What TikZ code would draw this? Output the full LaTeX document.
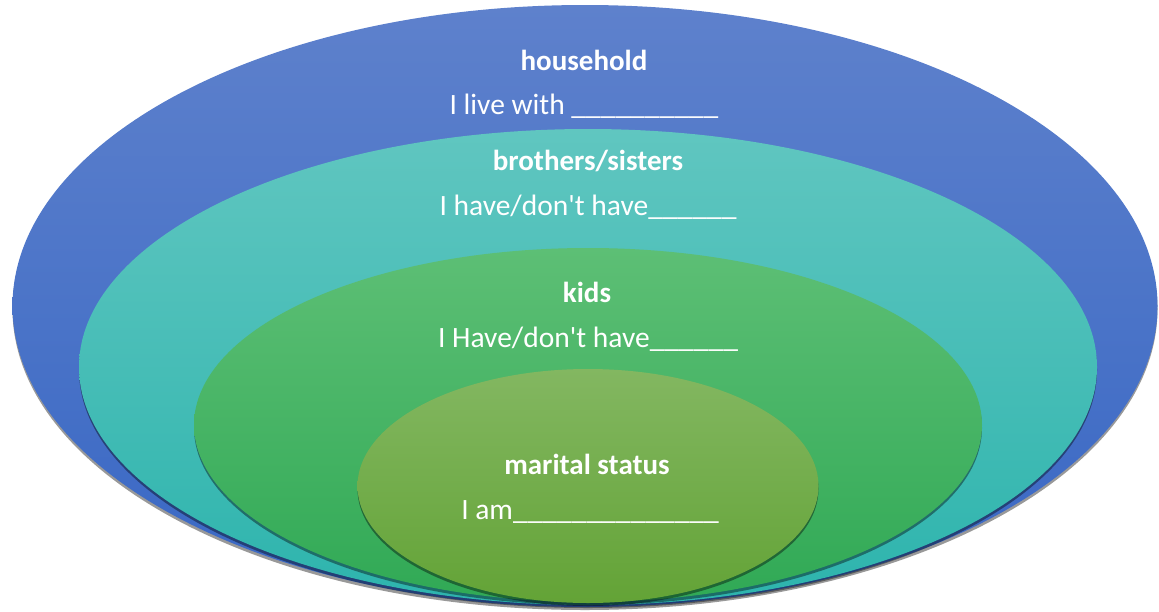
\documentclass[tikz,border=0pt]{standalone}
\usepackage{fontspec}
\setmainfont{Carlito}[Ligatures=TeXOff]
\usetikzlibrary{shapes.geometric,shadows}
\definecolor{blueTop}{HTML}{5E81CC}
\definecolor{blueBot}{HTML}{3867C4}
\definecolor{tealTop}{HTML}{60C6C0}
\definecolor{tealBot}{HTML}{2DB4AD}
\definecolor{greenTop}{HTML}{5DBF75}
\definecolor{greenBot}{HTML}{30A955}
\definecolor{limeTop}{HTML}{83B761}
\definecolor{limeBot}{HTML}{63A336}
\tikzset{
  layer/.style={ellipse, inner sep=0pt, draw=none,
    drop shadow={shadow xshift=0pt, shadow yshift=-3pt, opacity=0.4, fill=black}},
  title/.style={anchor=base, text=white, font=\fontsize{29}{34}\selectfont\bfseries},
  line/.style={anchor=base, text=white, font=\fontsize{29.5}{34}\selectfont}
}
\begin{document}
\begin{tikzpicture}[x=1pt,y=-1pt]
\useasboundingbox (0,0) rectangle (1159,611);
\node[layer, minimum width=1145pt, minimum height=602pt, top color=blueTop, bottom color=blueBot] (outer) at (585,306) {};
\node[layer, minimum width=1018pt, minimum height=476pt, top color=tealTop, bottom color=tealBot] (teal) at (588,367) {};
\node[layer, minimum width=788pt, minimum height=354pt, top color=greenTop, bottom color=greenBot] (green) at (588,425) {};
\node[layer, minimum width=461pt, minimum height=234pt, top color=limeTop, bottom color=limeBot] (inner) at (588,486) {};

\node[title] (t1) at (584,70) {household};
\node[line] (l1) at (584,114) {I live with \_\_\_\_\_\_\_\_\_\_};
\node[title] (t2) at (588,170) {brothers/sisters};
\node[line] (l2) at (588,215) {I have/don't have\_\_\_\_\_\_};
\node[title] (t3) at (587,302) {kids};
\node[line] (l3) at (588,347) {I Have/don't have\_\_\_\_\_\_};
\node[title] (t4) at (587,474) {marital status};
\node[line] (l4) at (590,519) {I am\_\_\_\_\_\_\_\_\_\_\_\_\_\_};
\end{tikzpicture}
\end{document}
